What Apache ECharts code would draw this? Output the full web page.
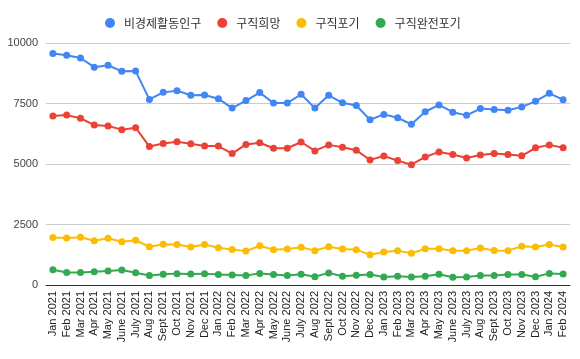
<!DOCTYPE html>
<html><head><meta charset="utf-8">
<script src="https://cdn.jsdelivr.net/npm/echarts@6/dist/echarts.min.js"></script>
<style>html,body{margin:0;padding:0;background:#fff}#c{width:580px;height:359px}</style>
</head><body><div id="c"></div>
<script>
const categories = ["Jan 2021","Feb 2021","Mar 2021","Apr 2021","May 2021","June 2021","July 2021","Aug 2021","Sept 2021","Oct 2021","Nov 2021","Dec 2021",
"Jan 2022","Feb 2022","Mar 2022","Apr 2022","May 2022","June 2022","July 2022","Aug 2022","Sept 2022","Oct 2022","Nov 2022","Dec 2022",
"Jan 2023","Feb 2023","Mar 2023","Apr 2023","May 2023","June 2023","July 2023","Aug 2023","Sept 2023","Oct 2023","Nov 2023","Dec 2023",
"Jan 2024","Feb 2024"];
const seriesNames = ["비경제활동인구","구직희망","구직포기","구직완전포기"];
const inactive = [9570,9490,9380,9000,9080,8830,8840,7670,7960,8030,7840,7850,7700,7310,7620,7950,7520,7520,7880,7310,7840,7530,7420,6830,7050,6910,6640,7160,7440,7140,7010,7290,7250,7220,7360,7590,7920,7660];
const jobWanted = [6980,7020,6890,6610,6570,6420,6500,5720,5850,5920,5840,5740,5740,5430,5810,5880,5650,5650,5910,5540,5790,5690,5570,5170,5330,5140,4970,5290,5500,5390,5250,5370,5430,5390,5340,5670,5790,5670];
const discouraged = [1960,1940,1970,1830,1930,1790,1850,1580,1680,1670,1570,1670,1540,1470,1400,1620,1460,1490,1560,1420,1580,1490,1460,1250,1360,1420,1310,1500,1500,1420,1420,1530,1430,1420,1600,1570,1670,1570];
const fullyDiscouraged = [630,520,520,550,580,620,510,390,440,470,450,470,430,410,390,480,430,390,440,340,500,360,400,430,330,360,330,360,440,320,330,390,390,430,430,340,480,450];
const yTicks = [0,2500,5000,7500,10000];
const colors = ["#4285F4","#EA4335","#FBBC04","#34A853"];
const data = [inactive, jobWanted, discouraged, fullyDiscouraged];

const chart = echarts.init(document.getElementById('c'), null, {renderer:'canvas'});
chart.setOption({
  animation:false,
  color: colors,
  textStyle:{fontFamily:'Arial, "Liberation Sans", "Noto Sans CJK KR", sans-serif'},
  legend:{
    top:12, left:100, icon:'circle', itemWidth:10, itemHeight:10, itemGap:16,
    textStyle:{fontSize:12, color:'#333', padding:[0,0,0,4], fontFamily:'"Noto Sans CJK KR", Arial, sans-serif'},
    data: seriesNames
  },
  grid:{left:46, right:10, top:43, bottom:74},
  xAxis:{
    type:'category', data:categories, boundaryGap:true,
    axisLine:{lineStyle:{color:'#333', width:1}},
    axisTick:{show:false},
    axisLabel:{rotate:90, interval:0, fontSize:11, color:'#222', margin:6, fontFamily:'Arial, "Liberation Sans", sans-serif'}
  },
  yAxis:{
    type:'value', min:yTicks[0], max:yTicks[yTicks.length-1], interval:2500,
    axisLine:{show:false}, axisTick:{show:false},
    axisLabel:{fontSize:11, color:'#444', margin:8, formatter:v=>String(v), fontFamily:'Arial, "Liberation Sans", sans-serif'},
    splitLine:{lineStyle:{color:'#ccc', width:1}}
  },
  series: seriesNames.map((n,i)=>({
    name:n, type:'line', data:data[i], symbol:'circle', symbolSize:7,
    lineStyle:{width:2, color:colors[i]}, itemStyle:{color:colors[i]}
  }))
});
</script></body></html>
